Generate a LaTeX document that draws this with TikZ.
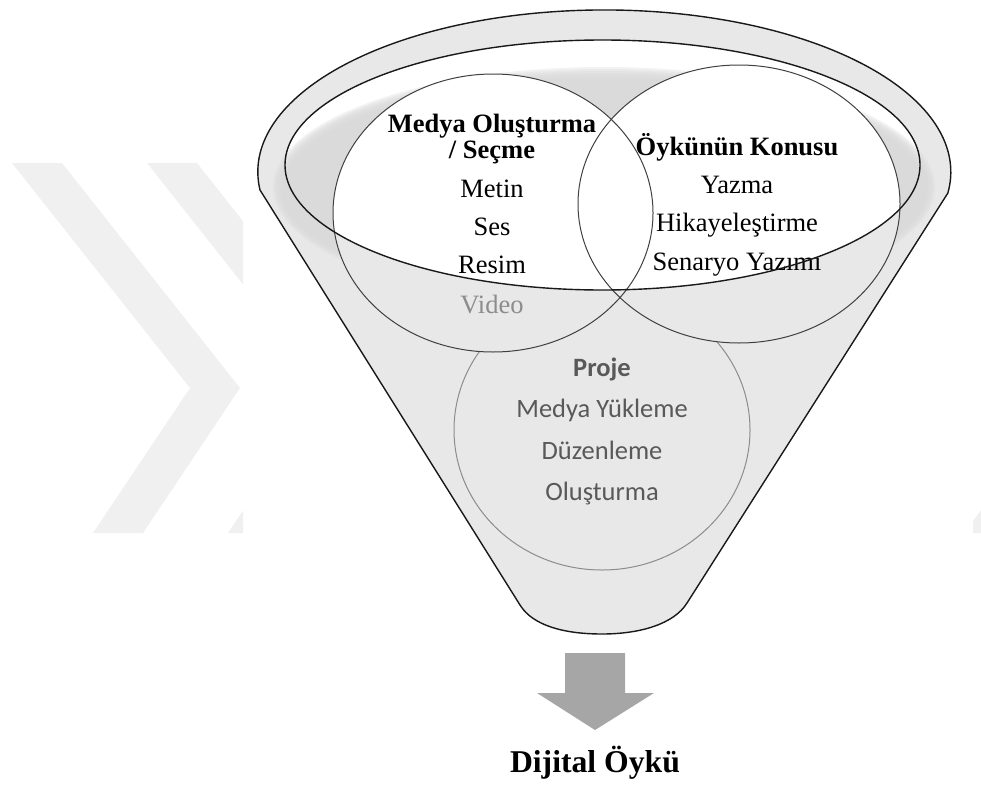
\documentclass[tikz,border=0pt]{standalone}
\usepackage{fontspec}
\setmainfont{Liberation Serif}
\newfontfamily\calibrifont{Carlito}
\usepackage{tikz}

\definecolor{funnelgray}{HTML}{E8E8E8}
\definecolor{shadegray}{HTML}{DADADA}
\definecolor{markgray}{HTML}{F0F0F0}
\definecolor{arrowgray}{HTML}{A6A6A6}
\definecolor{ringgray}{HTML}{404040}
\definecolor{projegray}{HTML}{8C8C8C}
\definecolor{projetext}{HTML}{595959}

\begin{document}
\begin{tikzpicture}[x=1pt,y=-1pt,
  outline/.style={draw=black!90,line width=1.4pt},
  ring/.style={draw=ringgray,line width=1pt},
  serif/.style={font=\fontsize{26.5}{29}\selectfont,inner sep=0pt,anchor=base},
  cal/.style={font=\calibrifont\fontsize{26.5}{30}\selectfont,text=projetext,inner sep=0pt,anchor=base}]
\useasboundingbox (0,0) rectangle (981,784);

% watermark behind the figure
\begin{scope}
\clip (0,0) rectangle (243,784);
\foreach \dx in {0,135}
  \fill[markgray,xshift=\dx pt] (12,163) -- (62,163) -- (240,388) -- (143,533) -- (93,533) -- (190,388) -- cycle;
\end{scope}
\fill[markgray] (973,521) -- (981,510) -- (981,533) -- (973,533) -- cycle;

% funnel
\draw[outline,fill=funnelgray] (260,190) arc[start angle=173.6,end angle=367.5,x radius=346.5,y radius=162]
  -- (687,603) .. controls (674,624) and (640,634) .. (602,634)
  .. controls (565,634) and (533,626) .. (520,605) -- cycle;
\fill[white] (602.5,165) ellipse[x radius=317.5,y radius=125];
% soft shadow inside the rim
\foreach \k in {0,...,5}
  \fill[shadegray,opacity=0.35] (604,187) ellipse[x radius=331-2*\k,y radius=120-2*\k];
\fill[shadegray] (604,187) ellipse[x radius=319,y radius=108];

% circles
\draw[draw=projegray,line width=1pt,fill=funnelgray] (602,430) ellipse[x radius=148,y radius=140];
\fill[funnelgray] (493,213) ellipse[x radius=160,y radius=139];
\fill[funnelgray] (739,204) ellipse[x radius=161,y radius=139];
\begin{scope}
\clip (602.5,165) ellipse[x radius=317.5,y radius=125];
\fill[white] (493,213) ellipse[x radius=160,y radius=139];
\fill[white] (739,204) ellipse[x radius=161,y radius=139];
\end{scope}
\draw[ring] (493,213) ellipse[x radius=160,y radius=139];
\draw[ring] (739,204) ellipse[x radius=161,y radius=139];

% texts
\node[serif,font=\bfseries\fontsize{26.5}{26}\selectfont] (medya) at (492,132) {Medya Oluşturma};
\node[serif,font=\bfseries\fontsize{26.5}{26}\selectfont] (secme) at (492,158) {/ Seçme};
\node[serif] (metin) at (492,197) {Metin};
\node[serif] (ses) at (492,235) {Ses};
\node[serif] (resim) at (492,273) {Resim};
\node[serif,text=projegray] (video) at (492,313) {Video};

\node[serif,font=\bfseries\fontsize{26.5}{26}\selectfont] (konu) at (737,155) {Öykünün Konusu};
\node[serif] (yazma) at (737,193) {Yazma};
\node[serif] (hikaye) at (737,231) {Hikayeleştirme};
\node[serif] (senaryo) at (737,270) {Senaryo Yazımı};

\node[cal,font=\calibrifont\bfseries\fontsize{26.5}{30}\selectfont] (proje) at (602,376) {Proje};
\node[cal] (yukleme) at (602,417) {Medya Yükleme};
\node[cal] (duzen) at (602,459) {Düzenleme};
\node[cal] (olus) at (602,500) {Oluşturma};

% rim on top
\draw[outline] (602.5,165) ellipse[x radius=317.5,y radius=125];

% arrow and result
\fill[arrowgray] (565,653) -- (625,653) -- (625,693) -- (654,693) -- (595,730) -- (537,693) -- (565,693) -- cycle;
\node[serif,font=\bfseries\fontsize{31.7}{36}\selectfont] (dijital) at (595,772) {Dijital Öykü};
\end{tikzpicture}
\end{document}
